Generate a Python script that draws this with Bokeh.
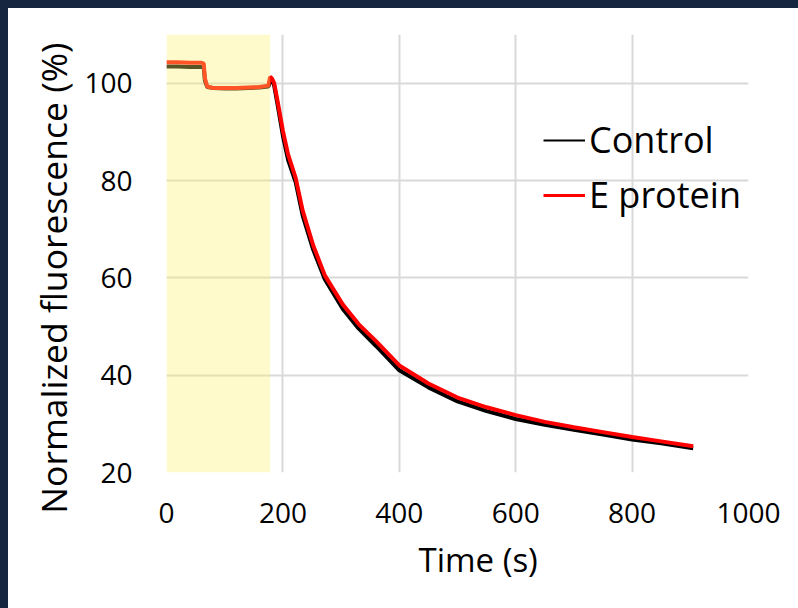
from bokeh.plotting import figure
from bokeh.models import Legend, LegendItem, FixedTicker, BoxAnnotation, Title
from bokeh.embed import file_html
from bokeh.resources import INLINE

time_s = [0, 20, 40, 60, 64, 66, 70, 80, 100, 120, 140, 160, 175, 178, 181, 185, 191,
          200, 209, 222, 234, 252, 272, 303, 330, 360, 400, 450, 500, 550, 600, 650,
          700, 750, 800, 850, 905]
control = [103.4, 103.4, 103.3, 103.3, 103.2, 100.5, 99.2, 99.0, 98.9, 98.9, 99.0, 99.1,
           99.3, 100.5, 100.8, 99.5, 95.5, 89.2, 84.2, 79.6, 72.8, 65.8, 59.7, 53.6, 49.6,
           46.0, 41.0, 37.5, 34.6, 32.6, 31.0, 29.8, 28.8, 27.8, 26.8, 26.0, 25.0]
e_protein = [104.3, 104.3, 104.2, 104.2, 104.0, 101.0, 99.3, 99.0, 99.0, 99.0, 99.1, 99.2,
             99.5, 101.3, 101.0, 100.0, 96.2, 90.2, 85.3, 80.5, 73.8, 66.7, 60.5, 54.5,
             50.5, 47.0, 42.0, 38.3, 35.4, 33.4, 31.8, 30.4, 29.3, 28.3, 27.3, 26.4, 25.4]
x_ticks = [0, 200, 400, 600, 800, 1000]
y_ticks = [20, 40, 60, 80, 100]
shade_start, shade_end = 0, 178
x_title = "Time (s)"
y_title = "Normalized fluorescence (%)"

FONT = "Open Sans"

p = figure(width=782, height=592, x_range=(0, 1000), y_range=(20, 110),
           output_backend="svg", toolbar_location=None,
           min_border_left=158, min_border_right=42, min_border_top=26, min_border_bottom=128)
p.outline_line_color = None
p.background_fill_color = "white"
p.border_fill_color = "white"

for ax in (p.xaxis[0], p.yaxis[0]):
    ax.axis_line_color = None
    ax.major_tick_line_color = None
    ax.minor_tick_line_color = None
    ax.major_label_text_font = FONT
    ax.major_label_text_font_size = "28px"
    ax.major_label_text_color = "black"

p.xaxis.ticker = FixedTicker(ticks=x_ticks)
p.yaxis.ticker = FixedTicker(ticks=y_ticks)
p.xaxis.major_label_standoff = 24
p.yaxis.major_label_standoff = 28

p.xgrid.ticker = FixedTicker(ticks=x_ticks)
p.ygrid.ticker = FixedTicker(ticks=y_ticks)
p.grid.grid_line_color = "#d9d9d9"
p.grid.grid_line_width = 2

r_ctrl = p.line(time_s, control, line_color="black", line_width=4)
r_e = p.line(time_s, e_protein, line_color="#ff0000", line_width=4)

box = BoxAnnotation(left=shade_start, right=shade_end, fill_color="#fff06e", fill_alpha=0.35,
                    line_color=None)
p.add_layout(box)

# axis titles, offset along the axis like the original
p.add_layout(Title(text=x_title, align="left", offset=252, standoff=18,
                   text_font=FONT, text_font_size="33px", text_font_style="normal",
                   text_color="black"), "below")
p.add_layout(Title(text=y_title, align="right", offset=8, standoff=10,
                   text_font=FONT, text_font_size="35.5px", text_font_style="normal",
                   text_color="black"), "left")

leg_ctrl = p.line([0, 1], [0, 0], line_color="black", line_width=2, visible=False)
leg_e = p.line([0, 1], [0, 0], line_color="#ff0000", line_width=3, visible=False)
legend = Legend(items=[LegendItem(label="Control", renderers=[leg_ctrl]),
                       LegendItem(label="E protein", renderers=[leg_e])],
                location=(377, 253), padding=0, margin=0, spacing=6,
                glyph_width=42, glyph_height=46, label_height=46, label_standoff=4,
                label_text_font=FONT, label_text_font_size="36px", label_text_color="black",
                border_line_color=None, background_fill_alpha=0)
p.add_layout(legend)

html = file_html(p, INLINE)
html = html.replace(
    "</head>",
    "<style>html{background-color:#172640;}"
    "body{background-color:white;margin:8px 0 0 8px;padding:0 8px 8px 0;}</style></head>",
    1)
open("out.html", "w").write(html)
